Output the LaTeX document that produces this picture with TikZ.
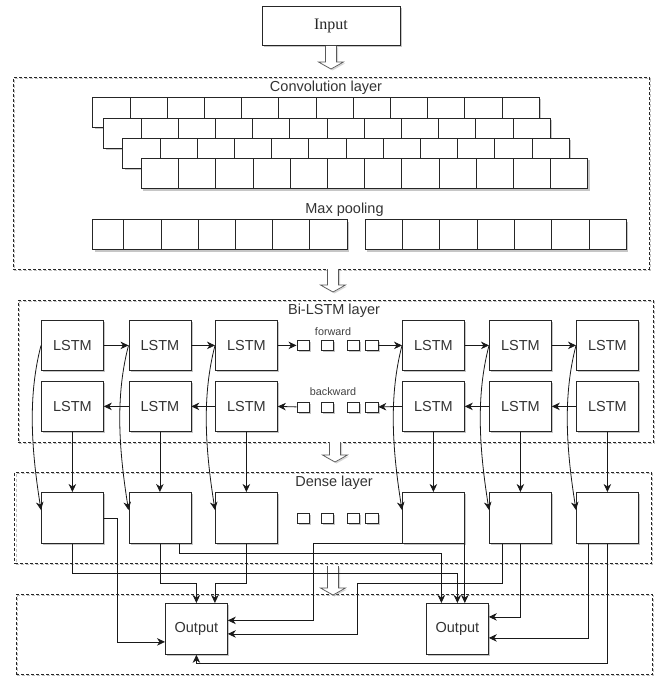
\documentclass[tikz,border=0pt]{standalone}
\usepackage{fontspec}
\setmainfont{Liberation Sans}
\newfontfamily\inputfont{Liberation Serif}
\usetikzlibrary{arrows.meta,shadows,calc}
\newcommand{\hollowarr}[3]{%
  \path[draw=black!65,fill=white,line width=0.7pt,
        drop shadow={shadow xshift=1.5pt,shadow yshift=-1.5pt,fill=black!40,opacity=0.4}]
   (#1-5.5,#2) -- (#1-5.5,#3-7) -- (#1-12.5,#3-7) -- (#1,#3) -- (#1+12.5,#3-7) -- (#1+5.5,#3-7) -- (#1+5.5,#2);}
\begin{document}
\begin{tikzpicture}[x=1pt,y=-1pt,
  shadowed/.style={drop shadow={shadow xshift=1.8pt,shadow yshift=-1.8pt,fill=black!50,opacity=0.45}},
  lbox/.style={draw=black!85,fill=white,line width=0.8pt,inner sep=0pt,anchor=north west,
     minimum width=62pt,minimum height=50pt,font=\fontsize{14.5}{17}\selectfont,text=black!80,shadowed},
  cell/.style={draw=black!85,fill=white,line width=0.8pt,inner sep=0pt,anchor=north west,
     minimum height=30pt,shadowed},
  sqbox/.style={draw=black!85,fill=white,line width=0.8pt,inner sep=0pt,anchor=north west,
     minimum width=12.5pt,minimum height=10pt,shadowed},
  arr/.style={draw=black!90,line width=0.8pt,-{Stealth[length=8pt,width=7.5pt,inset=2.5pt]}},
  container/.style={draw=black!85,line width=0.8pt,dash pattern=on 3pt off 2pt,anchor=north west,inner sep=0pt,
     preaction={draw=black!25,line width=0.8pt,dash pattern=on 3pt off 2pt,transform canvas={shift={(1.2pt,-1.2pt)}}}},
  lbl/.style={font=\fontsize{14.5}{17}\selectfont,text=black!80,inner sep=0pt},
  small/.style={font=\fontsize{10.8}{13}\selectfont,text=black!75,inner sep=0pt}
]
\useasboundingbox (0,0) rectangle (658,679);

% ---------- Input ----------
\node[draw=black!85,fill=white,line width=0.8pt,minimum width=138pt,minimum height=39pt,inner sep=0pt,
      font=\inputfont\fontsize{16}{19}\selectfont,text=black!85,shadowed] (inp) at (331,26) {Input};

% ---------- containers ----------
\node[container,minimum width=636.3pt,minimum height=191.4pt] (conv) at (12.7,77.3) {};
\node[container,minimum width=635.5pt,minimum height=141.7pt] (bil) at (17.5,300) {};
\node[container,minimum width=636.7pt,minimum height=91pt] (dense) at (14.3,472) {};
\node[container,minimum width=636.3pt,minimum height=80pt] (outp) at (15.7,594) {};

% ---------- hollow arrows ----------
\hollowarr{331}{46}{69}
\hollowarr{333}{269}{292}
\hollowarr{335}{442}{462}
\hollowarr{333}{566}{595}

% ---------- convolution layer ----------
\node[lbl] (convlbl) at (326,88) {Convolution layer};
\foreach \r/\x/\y in {1/92.3/97.3,2/103.3/117.7,3/122.3/138,4/141/158.3}{
  \foreach \i in {1,...,12}{
    \node[cell,minimum width=37.2pt] (c\r-\i) at ({\x+(\i-1)*37.2},\y) {};
  }
}
\node[lbl] (mplbl) at (344.5,209.5) {Max pooling};
\node[cell,minimum width=31pt] (mp1) at (92.4,219.3) {};
\foreach \i in {2,...,7}{
  \node[cell,minimum width=37.2pt] (mp\i) at ({123.4+(\i-2)*37.2},219.3) {};
}
\foreach \i in {1,...,7}{
  \node[cell,minimum width=37.3pt] (mq\i) at ({364.7+(\i-1)*37.3},219.3) {};
}

% ---------- Bi-LSTM layer ----------
\node[lbl] (bilbl) at (334,311) {Bi-LSTM layer};
\foreach \i/\x in {1/41,2/128.5,3/215,4/402,5/489,6/576}{
  \node[lbox] (f\i) at (\x,320) {LSTM};
  \node[lbox] (b\i) at (\x,381) {LSTM};
  \node[lbox,minimum height=51pt] (d\i) at (\x,492) {};
}
\node[small] (fwd) at (333,332) {forward};
\node[small] (bwd) at (333,392) {backward};
\foreach \i/\x in {1/296.5,2/320.5,3/346.5,4/365}{
  \node[sqbox] (fs\i) at (\x,340) {};
  \node[sqbox] (bs\i) at (\x,401.5) {};
  \node[sqbox] (ds\i) at (\x,512.5) {};
}

% forward chain
\draw[arr] (f1.east) -- (f2.west);
\draw[arr] (f2.east) -- (f3.west);
\draw[arr] (f3.east) -- (fs1.west);
\draw[arr] (fs4.east) -- (f4.west);
\draw[arr] (f4.east) -- (f5.west);
\draw[arr] (f5.east) -- (f6.west);
% backward chain
\draw[arr] (b2.west) -- (b1.east);
\draw[arr] (b3.west) -- (b2.east);
\draw[arr] (bs1.west) -- (b3.east);
\draw[arr] (b4.west) -- (bs4.east);
\draw[arr] (b5.west) -- (b4.east);
\draw[arr] (b6.west) -- (b5.east);

% ---------- Dense layer ----------
\node[lbl] (dlbl) at (334,483) {Dense layer};
\foreach \i in {1,...,6}{
  \draw[arr] (b\i.south) -- (d\i.north);
  \draw[arr] (f\i.west) .. controls ($(f\i.west)+(-13,50)$) and ($(d\i.north west)+(-10,-45)$) .. ($(d\i.north west)+(0,18)$);
}

% ---------- Output ----------
\node[lbox,minimum height=51pt] (o1) at (165,603) {Output};
\node[lbox,minimum height=51pt] (o2) at (426,603) {Output};

\draw[arr] (d1.east) -- ++(14,0) |- ($(o1.west)+(0,13)$);
\draw[arr] (d1.south) -- ++(0,30) -| (o2.north);
\draw[arr] (d2.south) -- ++(0,40) -| (o1.north);
\draw[arr] ($(d2.south)+(19,0)$) -- ++(0,10) -| ($(o2.north)+(-16,0)$);
\draw[arr] (d3.south) -- ++(0,40) -| ($(o1.north)+(18.5,0)$);
\draw[arr] (d4.south west) -- ++(-89,0) |- ($(o1.east)+(0,-8.5)$);
\draw[arr] (d4.south east) -- (d4.south east |- o2.north);
\draw[arr] ($(d5.south)+(-18.5,0)$) -- ++(0,40) -- ++(-145,0) |- ($(o1.east)+(0,5)$);
\draw[arr] (d5.south) |- ($(o2.east)+(0,-12)$);
\draw[arr] ($(d6.south)+(-19,0)$) |- ($(o2.east)+(0,9)$);
\draw[arr] (d6.south) -- ++(0,120) -| (o1.south);
\end{tikzpicture}
\end{document}
